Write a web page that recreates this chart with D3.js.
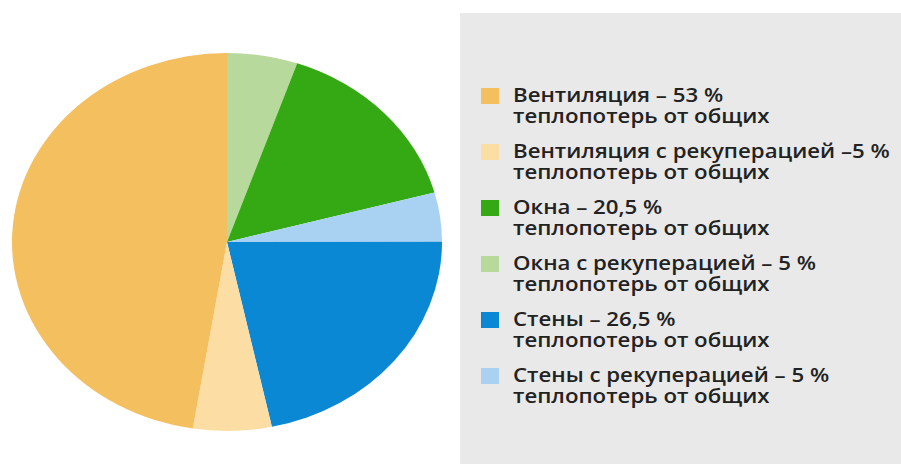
<!DOCTYPE html>
<html>
<head>
<meta charset="utf-8">
<script src="https://cdn.jsdelivr.net/npm/d3@7"></script>
<style>
  html, body { margin: 0; padding: 0; background: #ffffff; }
  svg { display: block; }
</style>
</head>
<body>
<div class="chart"></div>
<script>
// Slice shares as they are drawn in the picture (clockwise from 12 o'clock)
var sliceNames = ['Окна с рекуперацией', 'Окна', 'Стены с рекуперацией', 'Стены', 'Вентиляция с рекуперацией', 'Вентиляция'];
var sliceValues = [5.3, 15.5, 4.2, 21.7, 5.9, 47.5];

// Legend entries, top to bottom
var legendNames = ['Вентиляция', 'Вентиляция с рекуперацией', 'Окна', 'Окна с рекуперацией', 'Стены', 'Стены с рекуперацией'];
var legendLines1 = ['Вентиляция – 53 %', 'Вентиляция с рекуперацией –5 %', 'Окна – 20,5 %', 'Окна с рекуперацией – 5 %', 'Стены – 26,5 %', 'Стены с рекуперацией – 5 %'];
var legendLine2 = 'теплопотерь от общих';

var colors = {
  'Вентиляция': '#f3bf5f',
  'Вентиляция с рекуперацией': '#fcdda3',
  'Окна': '#34a913',
  'Окна с рекуперацией': '#b7d99c',
  'Стены': '#0a88d4',
  'Стены с рекуперацией': '#a9d1f2'
};

var width = 901, height = 464;

var svg = d3.select('.chart').append('svg')
  .attr('width', width)
  .attr('height', height);

// Grey legend panel
svg.append('rect')
  .attr('x', 460).attr('y', 13)
  .attr('width', width - 460).attr('height', height - 13)
  .attr('fill', '#e9e9e9');

// Pie is an ellipse: draw a circle and stretch it horizontally
var cx = 227, cy = 242, rx = 215, ry = 189;

var pie = d3.pie().sort(null).value(d => d.value);
var arc = d3.arc().innerRadius(0).outerRadius(ry);

var slices = sliceNames.map((n, i) => ({ name: n, value: sliceValues[i] }));

svg.append('g')
  .attr('transform', 'translate(' + cx + ',' + cy + ') scale(' + (rx / ry) + ',1)')
  .selectAll('path')
  .data(pie(slices))
  .enter()
  .append('path')
  .attr('d', arc)
  .attr('fill', d => colors[d.data.name]);

// Legend
var legendY = d3.scalePoint()
  .domain(legendNames)
  .range([102, 382]);

var items = svg.append('g')
  .selectAll('g')
  .data(legendNames)
  .enter()
  .append('g')
  .attr('transform', d => 'translate(0,' + legendY(d) + ')');

items.append('rect')
  .attr('x', 481).attr('y', -14)
  .attr('width', 18).attr('height', 16)
  .attr('fill', d => colors[d]);

// Text is stretched horizontally like the rest of the picture
var textX = 513, textWidth = 377;
var labels = items.append('g');

labels.append('text')
  .attr('y', 0)
  .style('font-family', '"Open Sans", sans-serif')
  .style('font-size', '20px')
  .style('font-weight', 600)
  .style('fill', '#222')
  .text((d, i) => legendLines1[i]);

labels.append('text')
  .attr('y', 21)
  .style('font-family', '"Open Sans", sans-serif')
  .style('font-size', '20px')
  .style('font-weight', 600)
  .style('fill', '#222')
  .text(legendLine2);

var longest = d3.max(labels.selectAll('text').nodes(), n => n.getComputedTextLength());
var sx = textWidth / longest;
labels.attr('transform', 'translate(' + textX + ',0) scale(' + sx + ',1)');
</script>
</body>
</html>
